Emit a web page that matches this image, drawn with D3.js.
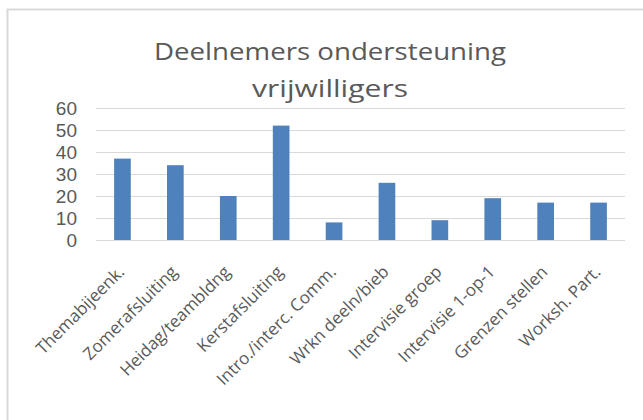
<!DOCTYPE html>
<html lang="nl">
<head>
    <meta charset="UTF-8">
    <title>Deelnemers ondersteuning vrijwilligers</title>
    <script src="https://d3js.org/d3.v7.min.js"></script>
    <style>
        body { margin: 0; padding: 0; background: #fff; }
        svg { display: block; font-family: "Open Sans", sans-serif; }
        .grid line { stroke: #d9d9d9; stroke-width: 1px; }
        .ytick text { fill: #595959; font-size: 19px; font-family: "Liberation Sans", sans-serif; }
        .xlabel { fill: #595959; font-size: 17px; }
        .title { fill: #595959; font-size: 24px; }
    </style>
</head>
<body>
<div id="chart"></div>
<script>
    const categories = ["Themabijeenk.", "Zomerafsluiting", "Heidag/teambldng", "Kerstafsluiting",
        "Intro./interc. Comm.", "Wrkn deeln/bieb", "Intervisie groep", "Intervisie 1-op-1",
        "Grenzen stellen", "Worksh. Part."];
    const values = [37, 34, 20, 52, 8, 26, 9, 19, 17, 17];
    const yTicks = [0, 10, 20, 30, 40, 50, 60];
    const titleLines = ["Deelnemers ondersteuning", "vrijwilligers"];

    const width = 643, height = 420;
    const plot = { left: 96, right: 625, top: 108, bottom: 240 };

    const svg = d3.select("#chart").append("svg")
        .attr("width", width)
        .attr("height", height);

    // chart frame
    svg.append("rect")
        .attr("x", 7.5).attr("y", 9.5)
        .attr("width", 660).attr("height", 440)
        .attr("fill", "#fff")
        .attr("stroke", "#d9d9d9")
        .attr("stroke-width", 2);

    const x = d3.scaleBand()
        .domain(categories)
        .range([plot.left, plot.right])
        .paddingInner(0.685)
        .paddingOuter(0.3425);

    const y = d3.scaleLinear()
        .domain([0, 60])
        .range([plot.bottom, plot.top]);

    // gridlines
    svg.append("g").attr("class", "grid")
        .selectAll("line")
        .data(yTicks)
        .enter().append("line")
        .attr("x1", plot.left).attr("x2", plot.right)
        .attr("y1", d => Math.round(y(d)) + 0.5)
        .attr("y2", d => Math.round(y(d)) + 0.5);

    // y labels
    svg.append("g").attr("class", "ytick")
        .selectAll("text")
        .data(yTicks)
        .enter().append("text")
        .attr("x", 77)
        .attr("y", d => y(d))
        .attr("dy", "0.36em")
        .attr("text-anchor", "end")
        .text(d => d);

    // bars
    svg.append("g")
        .selectAll("rect")
        .data(values)
        .enter().append("rect")
        .attr("x", (d, i) => x(categories[i]))
        .attr("width", x.bandwidth())
        .attr("y", d => y(d))
        .attr("height", d => y(0) - y(d))
        .attr("fill", "#4f81bd");

    // category labels, rotated
    svg.append("g")
        .selectAll("text")
        .data(categories)
        .enter().append("text")
        .attr("class", "xlabel")
        .attr("text-anchor", "end")
        .attr("transform", d => `translate(${x(d) + x.bandwidth() / 2 + 3},${plot.bottom + 33}) rotate(-45)`)
        .text(d => d);

    // title (the original is a bit stretched sideways)
    const titleWidths = [352, 156];
    svg.append("g")
        .selectAll("text")
        .data(titleLines)
        .enter().append("text")
        .attr("class", "title")
        .attr("x", 330)
        .attr("y", (d, i) => 60 + i * 37)
        .attr("text-anchor", "middle")
        .attr("textLength", (d, i) => titleWidths[i])
        .attr("lengthAdjust", "spacingAndGlyphs")
        .text(d => d);
</script>
</body>
</html>
